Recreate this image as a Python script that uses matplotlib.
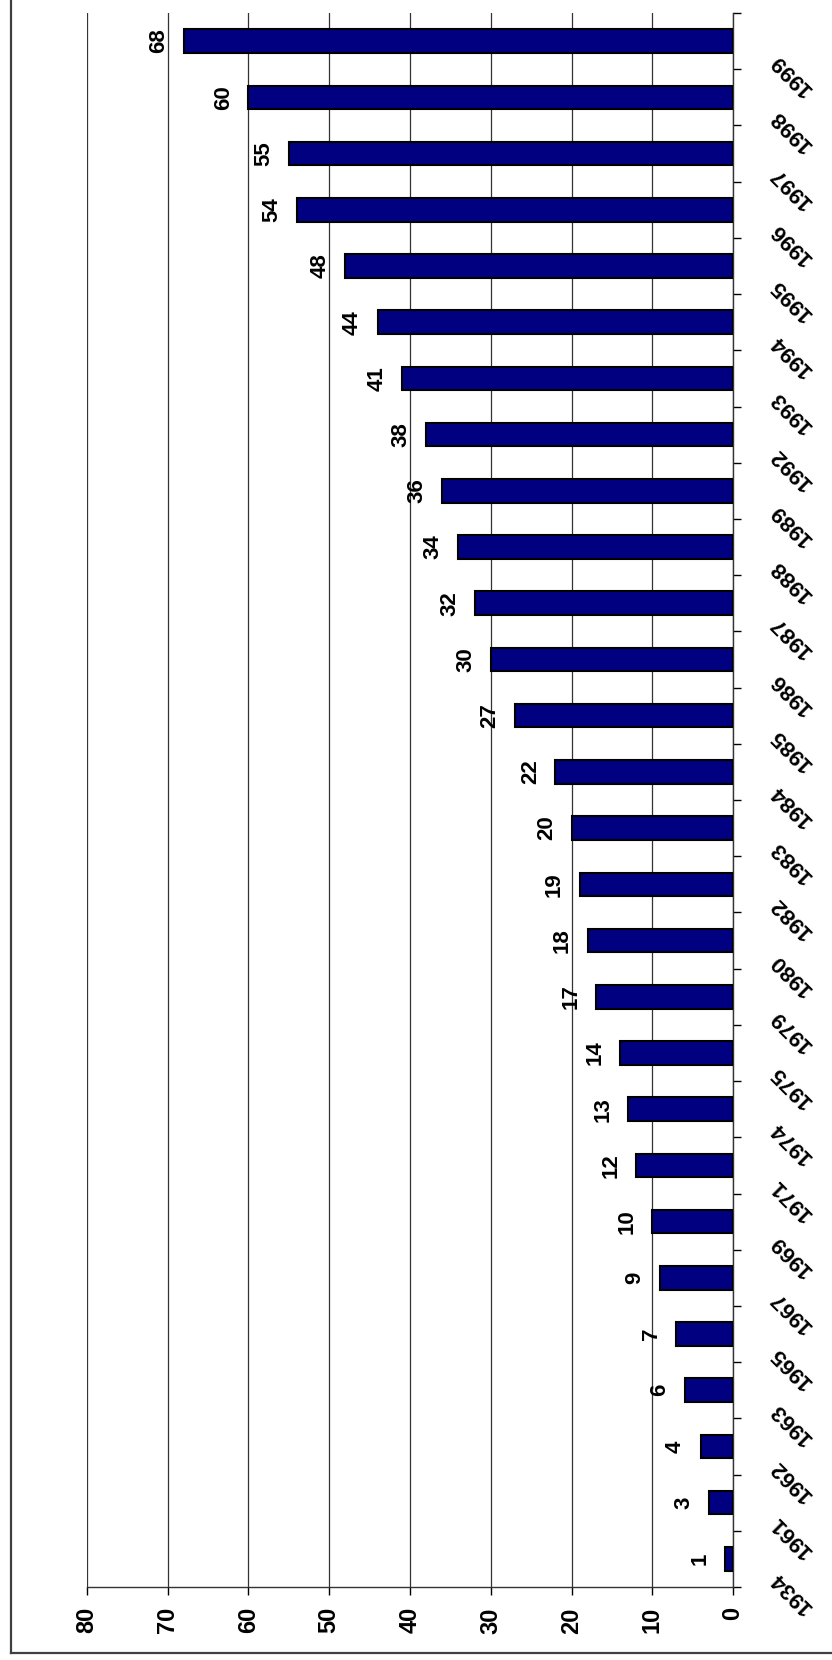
import matplotlib
matplotlib.use("Agg")
import matplotlib.pyplot as plt
import matplotlib.transforms as mtransforms
import numpy as np
from matplotlib.lines import Line2D

years = ["1934", "1961", "1962", "1963", "1965", "1967", "1969", "1971", "1974",
         "1975", "1979", "1980", "1982", "1983", "1984", "1985", "1986", "1987",
         "1988", "1989", "1992", "1993", "1994", "1995", "1996", "1997", "1998", "1999"]
values = [1, 3, 4, 6, 7, 9, 10, 12, 13, 14, 17, 18, 19, 20, 22, 27, 30, 32,
          34, 36, 38, 41, 44, 48, 54, 55, 60, 68]
value_ticks = [0, 10, 20, 30, 40, 50, 60, 70, 80]

plt.rcParams['font.family'] = ['Liberation Sans', 'DejaVu Sans']
plt.rcParams['font.weight'] = 'bold'

W, H = 832, 1660
fig = plt.figure(figsize=(W / 100, H / 100), dpi=100)
ax = fig.add_axes([87 / W, 1 - 1587 / H, (733 - 87) / W, (1587 - 13) / H])

pos = np.arange(len(years))
ax.barh(pos, values, height=0.42, color="#000080", edgecolor="black", linewidth=1.5, zorder=3)

ax.set_xlim(80, 0)
ax.set_ylim(-0.5, len(years) - 0.5)

ax.set_xticks(value_ticks)
ax.set_xticklabels([str(t) for t in value_ticks], rotation=90, fontsize=17, fontweight='bold')
ax.tick_params(axis='x', direction='out', length=6, width=1, pad=8.5, color='black')
ax.grid(axis='x', color='#333333', linewidth=0.9, zorder=0)

# category boundary ticks on the right axis
ax.yaxis.tick_right()
ax.set_yticks([])
ax.set_yticks(np.arange(len(years) + 1) - 0.5, minor=True)
ax.tick_params(axis='y', which='minor', direction='out', length=6, width=1, color='black')

# year labels (rotated), anchored at their end
ytrans = mtransforms.blended_transform_factory(ax.transAxes, ax.transData)
offset = mtransforms.ScaledTranslation(29.5 / 72, -11.5 / 72, fig.dpi_scale_trans)
for p, yr in zip(pos, years):
    ax.text(1.0, p, yr, transform=ytrans + offset, rotation=135, rotation_mode='anchor',
            ha='right', va='center', fontsize=16, fontweight='bold', clip_on=False)

for s in ['left', 'top']:
    ax.spines[s].set_visible(False)
for s in ['right', 'bottom']:
    ax.spines[s].set_color('#333333')
    ax.spines[s].set_linewidth(1.0)

for p, v in zip(pos, values):
    ax.annotate(str(v), xy=(v, p), xytext=(-10.5, 0), textcoords='offset points',
                rotation=90, ha='right', va='center', fontsize=16, fontweight='bold',
                zorder=4)

fig.add_artist(Line2D([10.5 / W, 10.5 / W], [1 - 1653 / H, 1], color='#404040', linewidth=1.6))
fig.add_artist(Line2D([10.5 / W, 1], [1 - 1653 / H, 1 - 1653 / H], color='#404040', linewidth=1.6))

fig.savefig("out.png", dpi=100)
